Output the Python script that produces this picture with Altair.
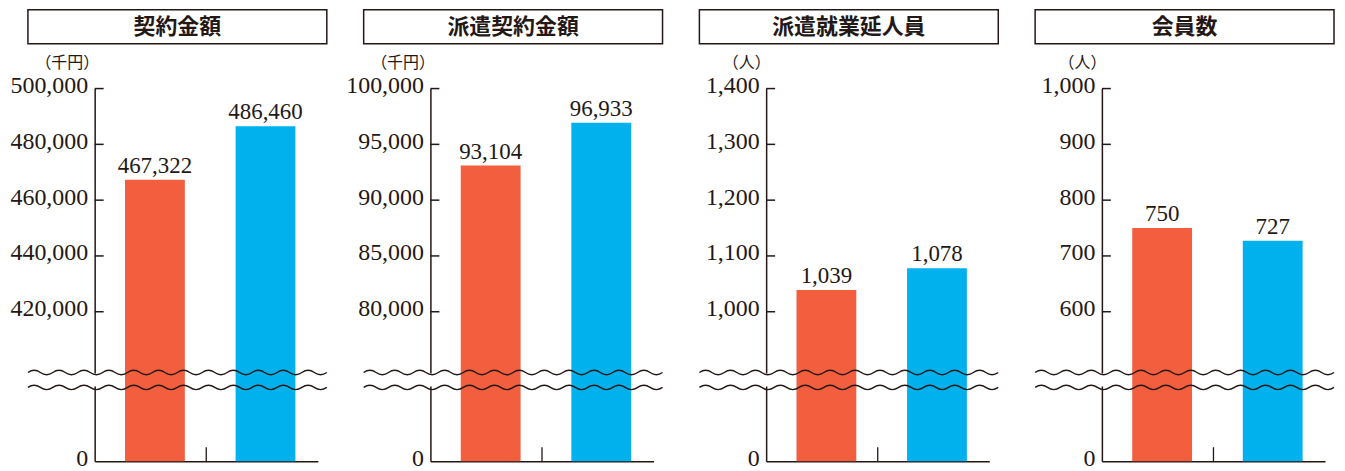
import altair as alt
import pandas as pd

# ---- data ----
titles = ["契約金額", "派遣契約金額", "派遣就業延人員", "会員数"]
units = ["（千円）", "（千円）", "（人）", "（人）"]
series = ["前年度", "当年度"]
values_prev = [467322, 93104, 1039, 750]
values_curr = [486460, 96933, 1078, 727]
tick_values = [
    [0, 420000, 440000, 460000, 480000, 500000],
    [0, 80000, 85000, 90000, 95000, 100000],
    [0, 1000, 1100, 1200, 1300, 1400],
    [0, 600, 700, 800, 900, 1000],
]
break_values = [400000, 75000, 900, 500]
max_values = [500000, 100000, 1400, 1000]
colors = ["#F25E3E", "#00B1EE"]

# ---- layout constants ----
W, H = 224, 374
BREAK_PX = 280
INK = "#231815"
SERIF = "Liberation Serif"
CJK = "Noto Sans CJK JP"

# wavy break-line symbol path (pixel units when size=4)
half = 12.5
parts = ["M-150,0"]
for k in range(24):
    s = -1 if k % 2 == 0 else 1
    parts.append(f"q{half/2},{s*4.4},{half},0")
WAVE = " ".join(parts)
BOX_L, BOX_R = -67, 233
BOX_C = (BOX_L + BOX_R) / 2

one = pd.DataFrame({"k": [0]})


def panel(i):
    df = pd.DataFrame({"series": series, "value": [values_prev[i], values_curr[i]]})
    ticks = pd.DataFrame({"v": tick_values[i][1:]})
    yscale = alt.Scale(domain=[0, break_values[i], max_values[i]],
                       range=[H, BREAK_PX, 0], nice=False, zero=False)
    xscale = alt.Scale(paddingInner=0.459, paddingOuter=0.2387, align=0.575)
    xenc = alt.X("series:N", sort=series, scale=xscale,
                 axis=alt.Axis(title=None, labels=False, ticks=False,
                               domainColor=INK, domainWidth=1.5))
    yaxis = alt.Axis(values=tick_values[i], labelExpr="format(datum.value, ',')",
                     ticks=False, grid=False,
                     labelPadding=7, labelFont=SERIF, labelFontSize=24,
                     labelOffset=-3,
                     labelColor=INK, domainColor=INK, domainWidth=1.5,
                     title=units[i], titleAngle=0, titleAlign="right",
                     titleBaseline="middle", titleX=4, titleY=-26,
                     titleFont=CJK, titleFontSize=16, titleFontWeight="normal",
                     titleColor=INK)

    bars = alt.Chart(df).mark_bar().encode(
        x=xenc,
        y=alt.Y("value:Q", scale=yscale, axis=yaxis),
        color=alt.Color("series:N", sort=series,
                        scale=alt.Scale(domain=series, range=colors), legend=None),
    )
    labels = alt.Chart(df).mark_text(dy=-7, baseline="alphabetic", font=SERIF,
                                     fontSize=23, color=INK).encode(
        x=alt.X("series:N", sort=series, scale=xscale),
        y=alt.Y("value:Q", scale=yscale),
        text=alt.Text("value:Q", format=","),
    )
    yticks = alt.Chart(ticks).mark_rule(color=INK, strokeWidth=1.5).encode(
        x=alt.value(0), x2=alt.value(9),
        y=alt.Y("v:Q", scale=yscale),
    )
    axis_gap = alt.Chart(one).mark_rect(color="white").encode(
        x=alt.value(-4), x2=alt.value(4), y=alt.value(286), y2=alt.value(299))
    wave1 = alt.Chart(one).mark_point(shape=WAVE, size=4, filled=False, opacity=1,
                                      color=INK, strokeWidth=1.4).encode(
        x=alt.value(BOX_C), y=alt.value(285))
    wave2 = alt.Chart(one).mark_point(shape=WAVE, size=4, filled=False, opacity=1,
                                      color=INK, strokeWidth=1.4).encode(
        x=alt.value(BOX_C), y=alt.value(300))
    mid_tick = alt.Chart(one).mark_rule(color=INK, strokeWidth=1.3).encode(
        x=alt.value(112), y=alt.value(H - 14), y2=alt.value(H))
    box = alt.Chart(one).mark_rect(fill="white", stroke=INK, strokeWidth=1.5).encode(
        x=alt.value(BOX_L), x2=alt.value(BOX_R), y=alt.value(-79), y2=alt.value(-45))
    title = alt.Chart(one).mark_text(text=titles[i], font=CJK, fontWeight="bold",
                                     fontSize=22, color=INK, align="center",
                                     baseline="middle").encode(
        x=alt.value(BOX_C), y=alt.value(-62))

    return alt.layer(yticks, axis_gap, bars, labels, wave1, wave2, mid_tick,
                     box, title).properties(width=W, height=H)


chart = alt.hconcat(*[panel(i) for i in range(4)], spacing=337 - W,
                    bounds="flush").properties(
    padding={"left": 2, "top": 0, "right": 0, "bottom": 0}
).configure_view(strokeWidth=0)

chart.save("out.html", embed_options={"renderer": "svg", "actions": False})
